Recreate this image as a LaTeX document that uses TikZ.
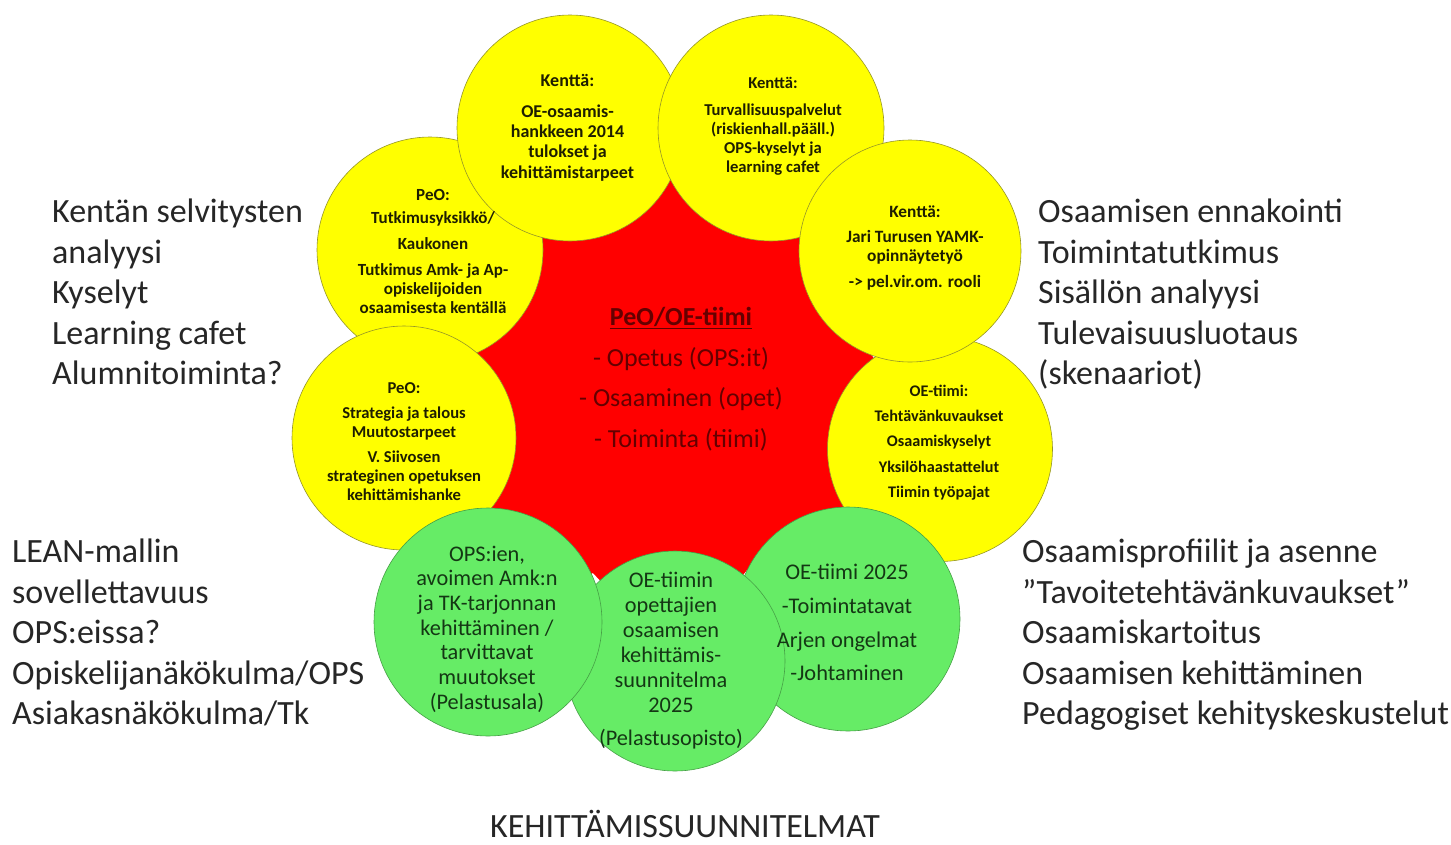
\documentclass[tikz,border=0pt]{standalone}
\usepackage{fontspec}
\setmainfont{Carlito}
\definecolor{cyel}{RGB}{255,255,0}
\definecolor{cred}{RGB}{255,0,0}
\definecolor{cgrn}{RGB}{102,236,102}
\definecolor{cyeld}{RGB}{150,150,40}
\definecolor{cgrnd}{RGB}{70,160,70}
\definecolor{tyel}{RGB}{30,30,0}
\definecolor{tgrn}{RGB}{20,55,20}
\definecolor{tred}{RGB}{100,0,0}
\definecolor{tside}{RGB}{38,38,38}
\tikzset{
  ycirc/.style={circle, fill=cyel, draw=cyeld, line width=0.6pt, inner sep=0pt, minimum size=#1},
  gcirc/.style={circle, fill=cgrn, draw=cgrnd, line width=0.6pt, inner sep=0pt, minimum size=#1},
  ytxt/.style={align=center, inner sep=0pt, text=tyel, font=\bfseries},
  gtxt/.style={align=center, inner sep=0pt, text=tgrn},
  sidetxt/.style={align=left, inner sep=0pt, text=tside, anchor=north west, font=\fontsize{34}{40.5}\selectfont},
}
\begin{document}
\begin{tikzpicture}[x=1pt,y=-1pt]
\useasboundingbox (0,0) rectangle (1451,844);
\fill[white] (0,0) rectangle (1451,844);
% red star
\fill[cred] (670,178) -- (771,128) -- (800,237) -- (910,251) -- (870,353) -- (940,448)
  -- (847,507) -- (848,620) -- (747,570) -- (675,661) -- (593,573) -- (488,622)
  -- (490,510) -- (404,438) -- (477,353) -- (430,250) -- (542,238) -- (570,128) -- cycle;
% yellow circles
\node[ycirc=226pt] (c3) at (430,250) {};
\node[ycirc=224pt] (c5) at (404,438) {};
\node[ycirc=226pt] (c1) at (570,128) {};
\node[ycirc=225pt] (c6) at (940,449) {};
\node[ycirc=226pt] (c2) at (771,128) {};
\node[ycirc=222pt] (c4) at (910,251) {};
% green circles
\node[gcirc=224pt] (c9) at (848,619) {};
\node[gcirc=220pt] (c8) at (675,661) {};
\node[gcirc=228pt] (c7) at (488,622) {};
% texts in yellow circles
\node[ytxt, font=\bfseries\fontsize{18}{20.3}\selectfont] (t1) at (567.5,127.5)
  {Kenttä:\\[11pt]OE-osaamis-\\hankkeen 2014\\tulokset ja\\kehittämistarpeet};
\node[ytxt, font=\bfseries\fontsize{16.6}{19}\selectfont] (t2) at (773,126.5)
  {Kenttä:\\[8pt]Turvallisuuspalvelut\\(riskienhall.pääll.)\\OPS-kyselyt ja\\learning cafet};
\node[ytxt, font=\bfseries\fontsize{17}{19}\selectfont] (t3) at (433,251.5)
  {PeO:\\[4pt]Tutkimusyksikkö/\\[7pt]Kaukonen\\[7pt]Tutkimus Amk- ja Ap-\\opiskelijoiden\\osaamisesta kentällä};
\node[ytxt, font=\bfseries\fontsize{17.3}{19}\selectfont] (t4) at (915,248)
  {Kenttä:\\[6pt]Jari Turusen YAMK-\\opinnäytetyö\\[7pt]-> pel.vir.om. rooli};
\node[ytxt, font=\bfseries\fontsize{16.6}{19}\selectfont] (t5) at (404,441.5)
  {PeO:\\[6pt]Strategia ja talous\\Muutostarpeet\\[6pt]V. Siivosen\\strateginen opetuksen\\kehittämishanke};
\node[ytxt, font=\bfseries\fontsize{16.2}{25.3}\selectfont] (t6) at (939,442.5)
  {OE-tiimi:\\Tehtävänkuvaukset\\Osaamiskyselyt\\Yksilöhaastattelut\\Tiimin työpajat};
% centre text
\node[align=center, inner sep=0pt, text=tred, font=\fontsize{26}{40.5}\selectfont] (t0) at (681,379)
  {\textbf{\underline{PeO/OE-tiimi}}\\- Opetus (OPS:it)\\- Osaaminen (opet)\\- Toiminta (tiimi)};
% texts in green circles
\node[gtxt, font=\fontsize{22.3}{24.7}\selectfont] (t7) at (487,629)
  {OPS:ien,\\avoimen Amk:n\\ja TK-tarjonnan\\kehittäminen /\\tarvittavat\\muutokset\\(Pelastusala)};
\node[gtxt, font=\fontsize{22.3}{25}\selectfont] (t8) at (671,661)
  {OE-tiimin\\opettajien\\osaamisen\\kehittämis-\\suunnitelma\\2025\\[8pt](Pelastusopisto)};
\node[gtxt, font=\fontsize{22.4}{33.7}\selectfont] (t9) at (847,622.5)
  {OE-tiimi 2025\\-Toimintatavat\\Arjen ongelmat\\-Johtaminen};
% side texts
\node[sidetxt] (s1) at (52,199)
  {Kentän selvitysten\\analyysi\\Kyselyt\\Learning cafet\\Alumnitoiminta?};
\node[sidetxt] (s2) at (1038,199)
  {Osaamisen ennakointi\\Toimintatutkimus\\Sisällön analyysi\\Tulevaisuusluotaus\\(skenaariot)};
\node[sidetxt] (s3) at (12,539)
  {LEAN-mallin\\sovellettavuus\\OPS:eissa?\\Opiskelijanäkökulma/OPS\\Asiakasnäkökulma/Tk};
\node[sidetxt] (s4) at (1022,539)
  {Osaamisprofiilit ja asenne\\”Tavoitetehtävänkuvaukset”\\Osaamiskartoitus\\Osaamisen kehittäminen\\Pedagogiset kehityskeskustelut};
\node[inner sep=0pt, text=tside, anchor=base, font=\fontsize{34}{40.5}\selectfont] (s5) at (685,837)
  {KEHITTÄMISSUUNNITELMAT};
\end{tikzpicture}
\end{document}
